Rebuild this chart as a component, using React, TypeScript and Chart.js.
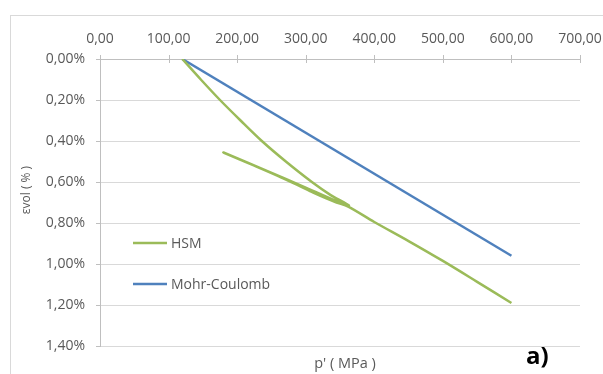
import React, { useEffect, useRef } from "react";
import { Chart, registerables } from "chart.js";

Chart.register(...registerables);

// ---- data ----
const xTickValues = [0, 100, 200, 300, 400, 500, 600, 700];
const yTickValues = [0, 0.2, 0.4, 0.6, 0.8, 1.0, 1.2, 1.4];

const seriesNames = ["HSM", "Mohr-Coulomb"];

// HSM: loading, unloading, reloading and further loading
const hsmP = [
  120, 147, 175, 205, 236, 271, 309, 337, 355, 363,
  361, 300, 240, 180,
  220, 260, 290, 311, 330, 345, 362, 400, 450, 500, 550, 600,
];
const hsmEps = [
  0, 0.1, 0.2, 0.3, 0.4, 0.5, 0.6, 0.665, 0.698, 0.714,
  0.716, 0.627, 0.541, 0.456,
  0.513, 0.571, 0.618, 0.652, 0.68, 0.7, 0.72, 0.795, 0.888, 0.985, 1.087, 1.19,
];

const mcP = [120, 600];
const mcEps = [0, 0.96];

const xTitle = "p' ( MPa )";
const yTitle = "εvol ( % )";
const panelLabel = "a)";

// ---- styles ----
const GREEN = "#9BBB59";
const BLUE = "#4F81BD";
const TEXT = "#595959";
const GRID = "#d9d9d9";
const AXIS = "#bfbfbf";
const FONT = "'Open Sans', sans-serif";

const fmt = (v: number) => v.toFixed(2).replace(".", ",");

export default function App() {
  const canvasRef = useRef<HTMLCanvasElement | null>(null);

  useEffect(() => {
    const canvas = canvasRef.current;
    if (!canvas) return;

    const decorations = {
      id: "decorations",
      afterDraw(chart: any) {
        const { ctx, chartArea } = chart;
        const xs = chart.scales.x;
        ctx.save();
        // x tick marks crossing the top axis
        ctx.strokeStyle = AXIS;
        ctx.lineWidth = 1;
        for (const v of xTickValues) {
          const px = Math.round(xs.getPixelForValue(v)) + 0.5;
          ctx.beginPath();
          ctx.moveTo(px, chartArea.top - 4);
          ctx.lineTo(px, chartArea.top + 4);
          ctx.stroke();
        }
        // legend inside plot
        const items = [
          { name: seriesNames[0], color: GREEN, y: 243 },
          { name: seriesNames[1], color: BLUE, y: 284 },
        ];
        ctx.font = `14px ${FONT}`;
        ctx.textBaseline = "middle";
        ctx.textAlign = "left";
        for (const it of items) {
          ctx.strokeStyle = it.color;
          ctx.lineWidth = 2.5;
          ctx.beginPath();
          ctx.moveTo(chartArea.left + 33, it.y);
          ctx.lineTo(chartArea.left + 67, it.y);
          ctx.stroke();
          ctx.fillStyle = TEXT;
          ctx.fillText(it.name, chartArea.left + 71, it.y + 1);
        }
        // y title (rotated)
        ctx.save();
        ctx.translate(27, 190);
        ctx.rotate(-Math.PI / 2);
        ctx.font = `12px ${FONT}`;
        ctx.textAlign = "center";
        ctx.textBaseline = "middle";
        ctx.fillStyle = TEXT;
        ctx.fillText(yTitle, 0, 0);
        ctx.restore();
        // x title at bottom
        ctx.font = `14.5px ${FONT}`;
        ctx.textAlign = "center";
        ctx.textBaseline = "middle";
        ctx.fillStyle = TEXT;
        ctx.fillText(xTitle, 345, 364);
        // panel label
        ctx.font = `bold 24px ${FONT}`;
        ctx.fillStyle = "#000";
        ctx.textAlign = "left";
        ctx.fillText(panelLabel, 526, 357);
        ctx.restore();
      },
    };

    const chart = new Chart(canvas, {
      type: "scatter",
      data: {
        datasets: [
          {
            label: seriesNames[0],
            data: hsmP.map((p, i) => ({ x: p, y: hsmEps[i] })),
            showLine: true,
            borderColor: GREEN,
            backgroundColor: GREEN,
            borderWidth: 2.5,
            pointRadius: 0,
            tension: 0.3,
          },
          {
            label: seriesNames[1],
            data: mcP.map((p, i) => ({ x: p, y: mcEps[i] })),
            showLine: true,
            borderColor: BLUE,
            backgroundColor: BLUE,
            borderWidth: 2.5,
            pointRadius: 0,
          },
        ],
      },
      options: {
        animation: false,
        responsive: false,
        devicePixelRatio: 1,
        layout: { padding: { left: 0, right: 23, top: 0, bottom: 28 } },
        plugins: {
          legend: { display: false },
          tooltip: { enabled: false },
        },
        scales: {
          x: {
            type: "linear",
            position: "top",
            min: 0,
            max: 700,
            afterBuildTicks: (scale: any) => {
              scale.ticks = xTickValues.map((v) => ({ value: v }));
            },
            afterFit: (scale: any) => {
              scale.height = 59;
              scale.paddingLeft = 0;
              scale.paddingRight = 0;
            },
            grid: { drawOnChartArea: false, drawTicks: false, tickLength: 4 },
            border: { display: true, color: AXIS, width: 1 },
            ticks: {
              padding: 12,
              color: TEXT,
              font: { family: FONT, size: 14 },
              callback: (v: any) => fmt(Number(v)),
              maxRotation: 0,
            },
          },
          y: {
            type: "linear",
            reverse: true,
            min: 0,
            max: 1.4,
            afterBuildTicks: (scale: any) => {
              scale.ticks = yTickValues.map((v) => ({ value: v }));
            },
            afterFit: (scale: any) => {
              scale.width = 100;
              scale.paddingTop = 0;
              scale.paddingBottom = 0;
            },
            grid: { color: GRID, drawTicks: true, tickLength: 4, tickColor: AXIS },
            border: { display: true, color: AXIS, width: 1 },
            ticks: {
              padding: 11,
              color: TEXT,
              font: { family: FONT, size: 14 },
              callback: (v: any) => fmt(Number(v)) + "%",
            },
          },
        },
      },
      plugins: [decorations],
    } as any);

    return () => chart.destroy();
  }, []);

  return (
    <div
      style={{
        position: "fixed",
        left: 0,
        top: 0,
        width: 603,
        height: 374,
        background: "#fff",
        overflow: "hidden",
      }}
    >
      <div
        style={{
          position: "absolute",
          left: 10,
          top: 15,
          width: 620,
          height: 420,
          border: `1px solid ${GRID}`,
        }}
      />
      <canvas
        ref={canvasRef}
        width={603}
        height={374}
        style={{ position: "absolute", left: 0, top: 0, width: 603, height: 374 }}
      />
    </div>
  );
}
